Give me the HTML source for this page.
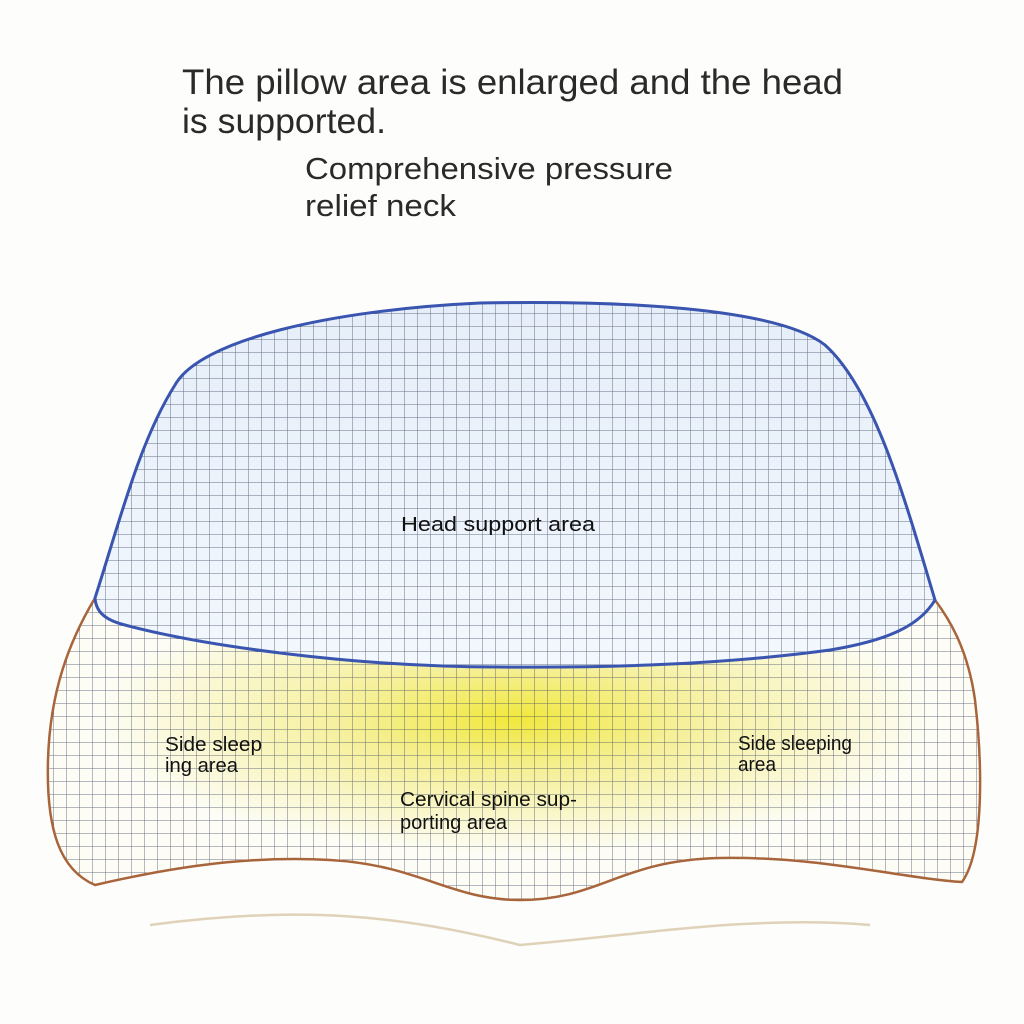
<!DOCTYPE html>
<html><head><meta charset="utf-8"><style>
html,body{margin:0;padding:0;background:#fdfdfb;}
svg{display:block;}
</style></head><body>
<svg width="1024" height="1024" viewBox="0 0 1024 1024" xmlns="http://www.w3.org/2000/svg">
<defs>
<pattern id="grid" width="13" height="13" patternUnits="userSpaceOnUse" x="2" y="2">
<path d="M13 0V13M0 13H13" stroke="#3d4660" stroke-width="1" fill="none" opacity="0.75"/>
</pattern>
<linearGradient id="blue" x1="0" y1="0" x2="0" y2="1">
<stop offset="0" stop-color="#e6eef9"/><stop offset="1" stop-color="#f2f8fd"/>
</linearGradient>
<radialGradient id="yel" cx="0.5" cy="0.4" r="0.45">
<stop offset="0" stop-color="#f1e83c"/><stop offset="0.4" stop-color="#f6f09a"/><stop offset="1" stop-color="#fdfdf6"/>
</radialGradient>
</defs>
<rect width="1024" height="1024" fill="#fdfdfb"/>
<g font-family="Liberation Sans, sans-serif" fill="#2a2a2a">
<text x="182" y="94" font-size="35" textLength="661" lengthAdjust="spacingAndGlyphs">The pillow area is enlarged and the head</text>
<text x="182" y="133" font-size="35" textLength="204" lengthAdjust="spacingAndGlyphs">is supported.</text>
<text x="305" y="179" font-size="31" textLength="368" lengthAdjust="spacingAndGlyphs">Comprehensive pressure</text>
<text x="305" y="216" font-size="31" textLength="151" lengthAdjust="spacingAndGlyphs">relief neck</text>
</g>

<path d="M95 598 C70 640 50 690 48 760 C46 830 60 870 95 885 C160 870 240 855 330 860 C420 865 450 900 520 900 C600 900 620 860 720 858 C820 856 900 878 962 882 C985 850 982 760 975 700 C968 650 950 620 935 600 C800 640 650 665 500 667 C350 667 200 640 95 598 Z" fill="url(#yel)"/>
<path d="M95 598 C70 640 50 690 48 760 C46 830 60 870 95 885 C160 870 240 855 330 860 C420 865 450 900 520 900 C600 900 620 860 720 858 C820 856 900 878 962 882 C985 850 982 760 975 700 C968 650 950 620 935 600 C800 640 650 665 500 667 C350 667 200 640 95 598 Z" fill="url(#grid)" stroke="#a8643a" stroke-width="2.5"/>

<path d="M95 598 C120 520 140 440 175 385 C200 340 330 310 480 303 C640 300 780 310 825 345 C875 390 905 500 935 600 C920 625 890 640 830 650 C720 665 600 668 500 667 C350 667 200 645 125 625 C105 620 96 612 95 598 Z" fill="url(#blue)"/>
<path d="M95 598 C120 520 140 440 175 385 C200 340 330 310 480 303 C640 300 780 310 825 345 C875 390 905 500 935 600 C920 625 890 640 830 650 C720 665 600 668 500 667 C350 667 200 645 125 625 C105 620 96 612 95 598 Z" fill="url(#grid)" stroke="#3a55b0" stroke-width="3"/>

<path d="M150 925 C300 905 400 915 520 945 C640 935 750 915 870 925" fill="none" stroke="#d8c7a8" stroke-width="2.5" opacity="0.8"/>

<g font-family="Liberation Sans, sans-serif" font-size="20" fill="#111">
<text x="401" y="531" textLength="194" lengthAdjust="spacingAndGlyphs">Head support area</text>
<text x="165" y="751" textLength="97" lengthAdjust="spacingAndGlyphs">Side sleep</text>
<text x="165" y="772" textLength="73" lengthAdjust="spacingAndGlyphs">ing area</text>
<text x="738" y="750" textLength="114" lengthAdjust="spacingAndGlyphs">Side sleeping</text>
<text x="738" y="771" textLength="38" lengthAdjust="spacingAndGlyphs">area</text>
<text x="400" y="806" textLength="177" lengthAdjust="spacingAndGlyphs">Cervical spine sup-</text>
<text x="400" y="829" textLength="107" lengthAdjust="spacingAndGlyphs">porting area</text>
</g>
</svg>
</body></html>
